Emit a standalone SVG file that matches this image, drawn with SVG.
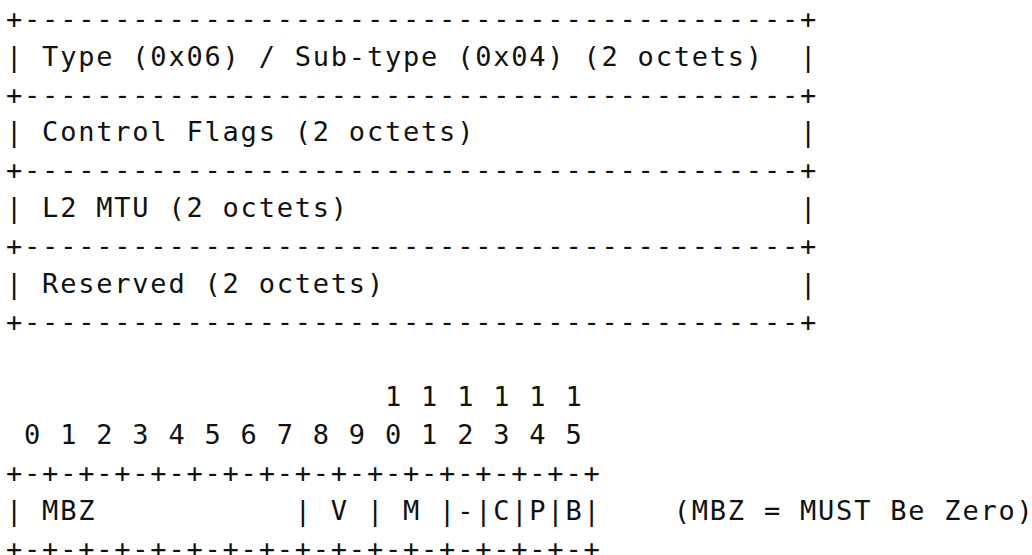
<svg xmlns="http://www.w3.org/2000/svg" width="1032" height="555" viewBox="0 0 1032 555">
<style>
text{font-family:"DejaVu Sans Mono","Liberation Mono",monospace;font-size:27px;letter-spacing:1.79px;fill:#111;white-space:pre}
</style>
<rect width="1032" height="555" fill="#fff"/>
<g id="tlv-header" xml:space="preserve">
<text x="6" y="27.8">+-------------------------------------------+</text>
<text x="6" y="65.7">| Type (0x06) / Sub-type (0x04) (2 octets)  |</text>
<text x="6" y="103.5">+-------------------------------------------+</text>
</g>
<g id="control-flags" xml:space="preserve">
<text x="6" y="141.4">| Control Flags (2 octets)                  |</text>
<text x="6" y="179.2">+-------------------------------------------+</text>
</g>
<g id="l2-mtu" xml:space="preserve">
<text x="6" y="217.1">| L2 MTU (2 octets)                         |</text>
<text x="6" y="255">+-------------------------------------------+</text>
</g>
<g id="reserved" xml:space="preserve">
<text x="6" y="292.8">| Reserved (2 octets)                       |</text>
<text x="6" y="330.7">+-------------------------------------------+</text>
</g>
<g id="bit-scale" xml:space="preserve">
<text x="6" y="406.4">                     1 1 1 1 1 1</text>
<text x="6" y="444.2"> 0 1 2 3 4 5 6 7 8 9 0 1 2 3 4 5</text>
</g>
<g id="control-flags-bits" xml:space="preserve">
<text x="6" y="482.1">+-+-+-+-+-+-+-+-+-+-+-+-+-+-+-+-+</text>
<text x="6" y="520">| MBZ           | V | M |-|C|P|B|    (MBZ = MUST Be Zero)</text>
<text x="6" y="557.8">+-+-+-+-+-+-+-+-+-+-+-+-+-+-+-+-+</text>
</g>
<g id="connectors"/>
</svg>
